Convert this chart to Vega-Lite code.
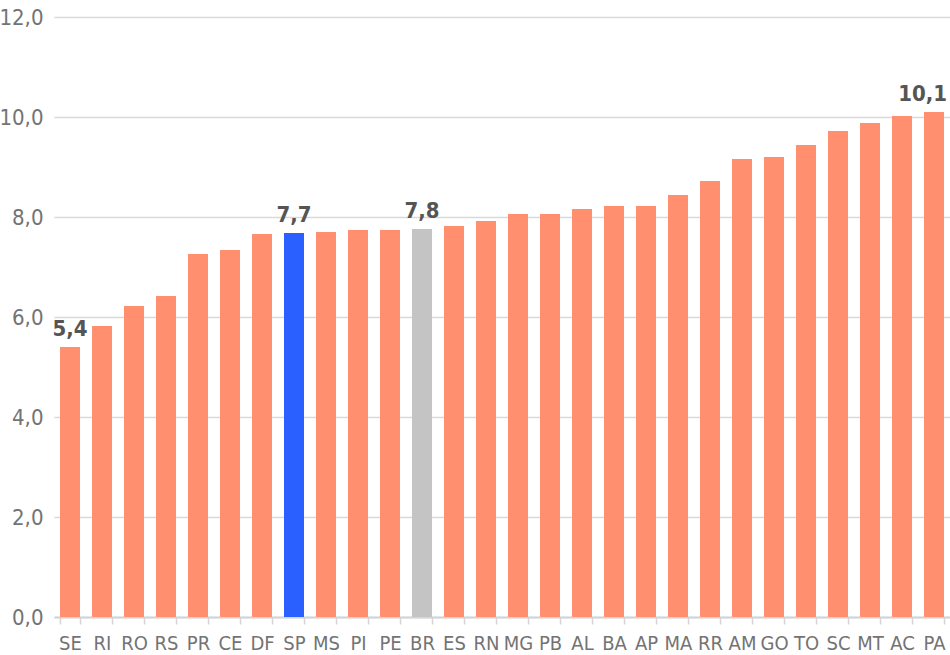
{
  "$schema": "https://vega.github.io/schema/vega-lite/v6.json",
  "width": 896,
  "height": 600,
  "autosize": {"type": "none"},
  "padding": {"left": 54, "top": 17, "right": 0, "bottom": 38},
  "background": "white",
  "data": {
    "values": [
      {"uf": "SE", "valor": 5.4, "grupo": "outros", "rotulo": true},
      {"uf": "RI", "valor": 5.82, "grupo": "outros", "rotulo": false},
      {"uf": "RO", "valor": 6.22, "grupo": "outros", "rotulo": false},
      {"uf": "RS", "valor": 6.42, "grupo": "outros", "rotulo": false},
      {"uf": "PR", "valor": 7.26, "grupo": "outros", "rotulo": false},
      {"uf": "CE", "valor": 7.34, "grupo": "outros", "rotulo": false},
      {"uf": "DF", "valor": 7.66, "grupo": "outros", "rotulo": false},
      {"uf": "SP", "valor": 7.68, "grupo": "SP", "rotulo": true},
      {"uf": "MS", "valor": 7.7, "grupo": "outros", "rotulo": false},
      {"uf": "PI", "valor": 7.74, "grupo": "outros", "rotulo": false},
      {"uf": "PE", "valor": 7.74, "grupo": "outros", "rotulo": false},
      {"uf": "BR", "valor": 7.76, "grupo": "BR", "rotulo": true},
      {"uf": "ES", "valor": 7.82, "grupo": "outros", "rotulo": false},
      {"uf": "RN", "valor": 7.92, "grupo": "outros", "rotulo": false},
      {"uf": "MG", "valor": 8.06, "grupo": "outros", "rotulo": false},
      {"uf": "PB", "valor": 8.06, "grupo": "outros", "rotulo": false},
      {"uf": "AL", "valor": 8.16, "grupo": "outros", "rotulo": false},
      {"uf": "BA", "valor": 8.22, "grupo": "outros", "rotulo": false},
      {"uf": "AP", "valor": 8.22, "grupo": "outros", "rotulo": false},
      {"uf": "MA", "valor": 8.44, "grupo": "outros", "rotulo": false},
      {"uf": "RR", "valor": 8.72, "grupo": "outros", "rotulo": false},
      {"uf": "AM", "valor": 9.16, "grupo": "outros", "rotulo": false},
      {"uf": "GO", "valor": 9.2, "grupo": "outros", "rotulo": false},
      {"uf": "TO", "valor": 9.44, "grupo": "outros", "rotulo": false},
      {"uf": "SC", "valor": 9.72, "grupo": "outros", "rotulo": false},
      {"uf": "MT", "valor": 9.88, "grupo": "outros", "rotulo": false},
      {"uf": "AC", "valor": 10.02, "grupo": "outros", "rotulo": false},
      {"uf": "PA", "valor": 10.1, "grupo": "outros", "rotulo": true}
    ]
  },
  "encoding": {
    "x": {
      "field": "uf",
      "type": "nominal",
      "sort": null,
      "scale": {"paddingInner": 0.375, "paddingOuter": 0.1875},
      "axis": {
        "title": null,
        "labelAngle": 0,
        "labelFont": "DejaVu Sans Condensed",
        "labelFontSize": 20,
        "labelColor": "#737373",
        "labelPadding": 9,
        "tickBand": "extent",
        "tickColor": "#d4d4d4",
        "tickSize": 7,
        "tickWidth": 1.5,
        "domainColor": "#d4d4d4",
        "domainWidth": 2,
        "grid": false
      }
    },
    "y": {
      "field": "valor",
      "type": "quantitative",
      "scale": {"domain": [0, 12], "nice": false},
      "axis": {
        "title": null,
        "values": [0, 2, 4, 6, 8, 10, 12],
        "labelExpr": "replace(format(datum.value, '.1f'), '.', ',')",
        "labelFont": "DejaVu Sans Condensed",
        "labelFontSize": 22,
        "labelColor": "#737373",
        "labelPadding": 11,
        "ticks": false,
        "domain": false,
        "grid": true,
        "gridColor": "#d9d9d9",
        "gridWidth": 1.5
      }
    }
  },
  "layer": [
    {
      "mark": {"type": "bar"},
      "encoding": {
        "color": {
          "field": "grupo",
          "type": "nominal",
          "scale": {"domain": ["outros", "SP", "BR"], "range": ["#FF8F6F", "#2A60FF", "#C4C4C4"]},
          "legend": null
        }
      }
    },
    {
      "transform": [{"filter": "datum.rotulo"}],
      "mark": {
        "type": "text",
        "baseline": "alphabetic",
        "dy": -11,
        "align": {"expr": "datum.uf == 'PA' ? 'right' : 'center'"},
        "dx": {"expr": "datum.uf == 'PA' ? 13 : 0"},
        "font": "DejaVu Sans Condensed",
        "fontSize": 22,
        "fontWeight": "bold",
        "color": "#555555",
        "text": {"expr": "replace(format(datum.valor, '.1f'), '.', ',')"}
      }
    }
  ],
  "config": {"view": {"stroke": null}}
}
